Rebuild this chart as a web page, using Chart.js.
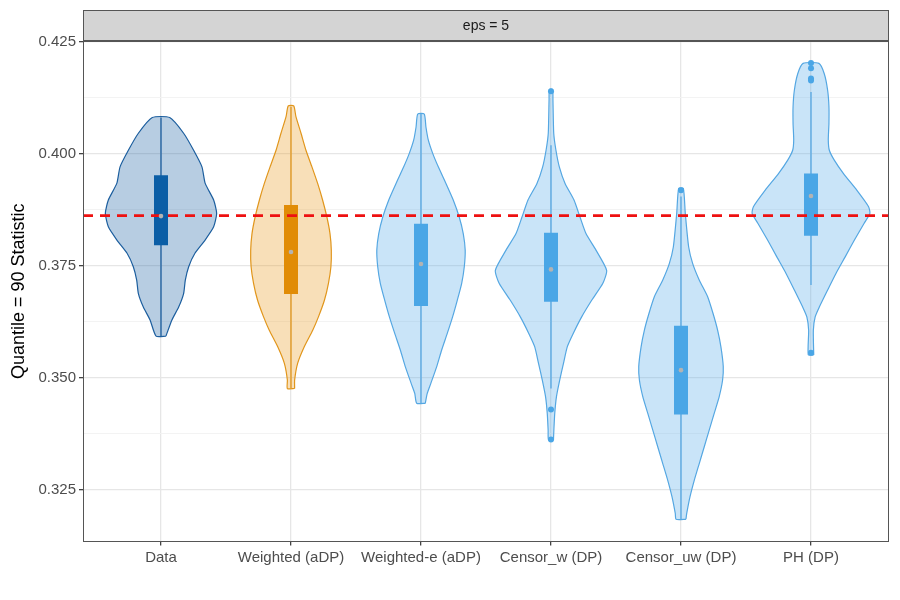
<!DOCTYPE html>
<html>
<head>
<meta charset="utf-8">
<title>Quantile = 90 Statistic</title>
<script src="https://cdn.jsdelivr.net/npm/chart.js@4.4.1/dist/chart.umd.min.js"></script>
<style>
  html, body { margin: 0; padding: 0; background: #fff; }
  #wrap { width: 900px; height: 600px; }
</style>
</head>
<body>
<div id="wrap"><canvas id="chart"></canvas></div>
<script>
const categories = ['Data', 'Weighted (aDP)', 'Weighted-e (aDP)', 'Censor_w (DP)', 'Censor_uw (DP)', 'PH (DP)'];
const panelLabel = 'eps = 5';
const referenceValue = 0.3862;

// violin outlines: y levels (bottom to top) and half widths in category units
const dataLevels = [0.3593, 0.3629, 0.3658, 0.3688, 0.3718, 0.3748, 0.3778, 0.3807, 0.3837, 0.3867, 0.3897, 0.3934, 0.3971, 0.4008, 0.4046, 0.4081];
const dataWidths = [0.038, 0.084, 0.136, 0.174, 0.187, 0.213, 0.261, 0.338, 0.405, 0.428, 0.405, 0.340, 0.315, 0.251, 0.174, 0.067];

const weightedLevels = [0.3476, 0.3495, 0.3532, 0.3569, 0.3606, 0.3636, 0.3673, 0.3711, 0.3748, 0.3785, 0.3822, 0.3859, 0.3897, 0.3934, 0.3971, 0.4008, 0.4046, 0.4083, 0.4107];
const weightedWidths = [0.028, 0.028, 0.051, 0.102, 0.167, 0.211, 0.257, 0.288, 0.307, 0.310, 0.300, 0.276, 0.243, 0.205, 0.161, 0.115, 0.077, 0.038, 0.021];

const weightedELevels = [0.3443, 0.3465, 0.3487, 0.3525, 0.3562, 0.3599, 0.3636, 0.3673, 0.3711, 0.3748, 0.3785, 0.3822, 0.3859, 0.3897, 0.3934, 0.3971, 0.4001, 0.4031, 0.4060, 0.4089];
const weightedEWidths = [0.033, 0.048, 0.075, 0.121, 0.159, 0.202, 0.243, 0.279, 0.313, 0.333, 0.340, 0.325, 0.294, 0.248, 0.192, 0.133, 0.090, 0.056, 0.038, 0.025];

const censorWLevels = [0.3361, 0.3383, 0.3421, 0.3458, 0.3495, 0.3532, 0.3569, 0.3599, 0.3636, 0.3673, 0.3711, 0.3740, 0.3785, 0.3822, 0.3859, 0.3897, 0.3934, 0.3971, 0.4008, 0.4046, 0.4120, 0.4144];
const censorWWidths = [0.019, 0.022, 0.029, 0.042, 0.067, 0.096, 0.125, 0.171, 0.236, 0.313, 0.399, 0.428, 0.346, 0.269, 0.223, 0.177, 0.108, 0.064, 0.038, 0.021, 0.015, 0.012];

const censorUwLevels = [0.3184, 0.3197, 0.3234, 0.3271, 0.3309, 0.3346, 0.3383, 0.3421, 0.3458, 0.3495, 0.3525, 0.3569, 0.3606, 0.3644, 0.3681, 0.3718, 0.3755, 0.3792, 0.3867, 0.3923];
const censorUwWidths = [0.038, 0.044, 0.069, 0.102, 0.141, 0.179, 0.217, 0.256, 0.294, 0.320, 0.325, 0.307, 0.282, 0.246, 0.205, 0.141, 0.090, 0.059, 0.033, 0.018];

const phLevels = [0.3551, 0.3606, 0.3636, 0.3658, 0.3696, 0.3733, 0.3770, 0.3807, 0.3845, 0.3867, 0.3882, 0.3919, 0.3956, 0.3986, 0.4008, 0.4031, 0.4068, 0.4105, 0.4142, 0.4179, 0.4202];
const phWidths = [0.021, 0.018, 0.032, 0.064, 0.128, 0.192, 0.263, 0.333, 0.409, 0.453, 0.443, 0.352, 0.250, 0.179, 0.141, 0.133, 0.138, 0.138, 0.128, 0.102, 0.061];

// box plot summaries, one per category
const q1Values = [0.3796, 0.3687, 0.3660, 0.3670, 0.3418, 0.3817];
const medianValues = [0.3861, 0.3781, 0.3754, 0.3742, 0.3517, 0.3906];
const q3Values = [0.3952, 0.3886, 0.3844, 0.3824, 0.3616, 0.3956];
const whiskerLow = [0.3593, 0.3476, 0.3443, 0.3476, 0.3184, 0.3707];
const whiskerHigh = [0.4081, 0.4105, 0.4089, 0.4019, 0.3905, 0.4138];
const outlierValues = [[], [], [], [0.4140, 0.3429, 0.3362], [0.3919], [0.4203, 0.4191, 0.4168, 0.4164, 0.3556]];

const yMajorTicks = [0.325, 0.350, 0.375, 0.400, 0.425];
const yMinorTicks = [0.3375, 0.3625, 0.3875, 0.4125];

// colours
const lineColors = ['#1c5e9e', '#e1961c', '#55a7e2', '#55a7e2', '#55a7e2', '#55a7e2'];
const fillColors = ['rgba(30,100,165,0.32)', 'rgba(232,155,35,0.32)', 'rgba(86,170,232,0.32)', 'rgba(86,170,232,0.32)', 'rgba(86,170,232,0.32)', 'rgba(86,170,232,0.32)'];
const boxColors = ['#0b5ea6', '#e18c06', '#4aa6e6', '#4aa6e6', '#4aa6e6', '#4aa6e6'];

const levelSets = [dataLevels, weightedLevels, weightedELevels, censorWLevels, censorUwLevels, phLevels];
const widthSets = [dataWidths, weightedWidths, weightedEWidths, censorWWidths, censorUwWidths, phWidths];

const datasets = [];
categories.forEach((name, i) => {
    const c = i + 1;
    const lv = levelSets[i];
    const wd = widthSets[i];
    const outline = lv.map((y, k) => ({ x: c + wd[k], y: y }));
    for (let k = lv.length - 1; k >= 0; k--) outline.push({ x: c - wd[k], y: lv[k] });
    outline.push(outline[0]);

    datasets.push({
        label: name, data: outline, showLine: true, fill: 'shape', tension: 0.2,
        backgroundColor: fillColors[i], borderColor: lineColors[i], borderWidth: 1.2,
        pointRadius: 0, order: 6
    });
    datasets.push({
        label: name + ' whisker', data: [{ x: c, y: whiskerLow[i] }, { x: c, y: whiskerHigh[i] }],
        showLine: true, borderColor: lineColors[i], borderWidth: 1.3, pointRadius: 0, order: 5
    });
    datasets.push({
        label: name + ' box', data: [{ x: c, y: q1Values[i] }, { x: c, y: q3Values[i] }],
        showLine: true, borderColor: boxColors[i], borderWidth: 14, borderCapStyle: 'butt',
        pointRadius: 0, order: 4
    });
    datasets.push({
        label: name + ' outliers', data: outlierValues[i].map(v => ({ x: c, y: v })),
        pointRadius: 3, backgroundColor: boxColors[i], borderWidth: 0, order: 3
    });
    datasets.push({
        label: name + ' median', data: [{ x: c, y: medianValues[i] }],
        pointRadius: 2.3, backgroundColor: '#b3b3b3', borderWidth: 0, order: 1
    });
});
datasets.push({
    label: 'reference', data: [{ x: 0.4, y: referenceValue }, { x: 6.6, y: referenceValue }],
    showLine: true, borderColor: '#ee1111', borderWidth: 2.6, borderDash: [10, 7],
    pointRadius: 0, order: 2
});

// facet strip and panel border like ggplot theme_bw
const panelPlugin = {
    id: 'panel',
    afterDraw(chart) {
        const { ctx, chartArea: a } = chart;
        ctx.save();
        ctx.fillStyle = '#d4d4d4';
        ctx.fillRect(a.left, 10, a.right - a.left, a.top - 10);
        ctx.strokeStyle = '#555';
        ctx.lineWidth = 1;
        ctx.strokeRect(a.left + 0.5, 10.5, a.right - a.left - 1, a.top - 10);
        ctx.strokeRect(a.left + 0.5, a.top, a.right - a.left - 1, a.bottom - a.top);
        ctx.lineWidth = 2;
        ctx.beginPath();
        ctx.moveTo(a.left, a.top);
        ctx.lineTo(a.right, a.top);
        ctx.stroke();
        ctx.fillStyle = '#1a1a1a';
        ctx.font = '14px "Liberation Sans", Arial, sans-serif';
        ctx.textAlign = 'center';
        ctx.textBaseline = 'middle';
        ctx.fillText(panelLabel, (a.left + a.right) / 2, (10 + a.top) / 2 + 1);
        ctx.restore();
    }
};

const isMajor = v => yMajorTicks.some(t => Math.abs(t - v) < 1e-6);

new Chart(document.getElementById('chart'), {
    type: 'scatter',
    data: { datasets: datasets },
    options: {
        responsive: true,
        maintainAspectRatio: false,
        animation: false,
        events: [],
        layout: { padding: { top: 41, right: 11, bottom: 0, left: 0 } },
        plugins: { legend: { display: false }, tooltip: { enabled: false } },
        scales: {
            x: {
                type: 'linear', min: 0.4, max: 6.6,
                afterBuildTicks: scale => { scale.ticks = categories.map((_, i) => ({ value: i + 1 })); },
                afterFit: scale => { scale.height = 58.5; },
                ticks: {
                    callback: v => categories[Math.round(v) - 1],
                    color: '#4d4d4d', autoSkip: false, maxRotation: 0, padding: 3,
                    font: { family: '"Liberation Sans", Arial, sans-serif', size: 15 }
                },
                grid: { color: '#e6e6e6', lineWidth: 1.3, tickLength: 4, tickColor: '#444' },
                border: { display: false }
            },
            y: {
                type: 'linear', min: 0.31344, max: 0.4252,
                afterBuildTicks: scale => {
                    scale.ticks = yMajorTicks.concat(yMinorTicks).sort((a, b) => a - b).map(v => ({ value: v }));
                },
                afterFit: scale => { scale.width = 83; },
                ticks: {
                    callback: v => isMajor(v) ? v.toFixed(3) : '',
                    color: '#4d4d4d', padding: 3,
                    font: { family: '"Liberation Sans", Arial, sans-serif', size: 15 }
                },
                grid: {
                    color: ctx => isMajor(ctx.tick.value) ? '#e6e6e6' : '#f2f2f2',
                    lineWidth: ctx => isMajor(ctx.tick.value) ? 1.3 : 0.9,
                    tickLength: 4,
                    tickColor: ctx => isMajor(ctx.tick.value) ? '#444' : 'rgba(0,0,0,0)'
                },
                border: { display: false },
                title: {
                    display: true, text: 'Quantile = 90 Statistic', color: '#000',
                    padding: { top: 8, bottom: 0 },
                    font: { family: '"Liberation Sans", Arial, sans-serif', size: 18 }
                }
            }
        }
    },
    plugins: [panelPlugin]
});
</script>
</body>
</html>
